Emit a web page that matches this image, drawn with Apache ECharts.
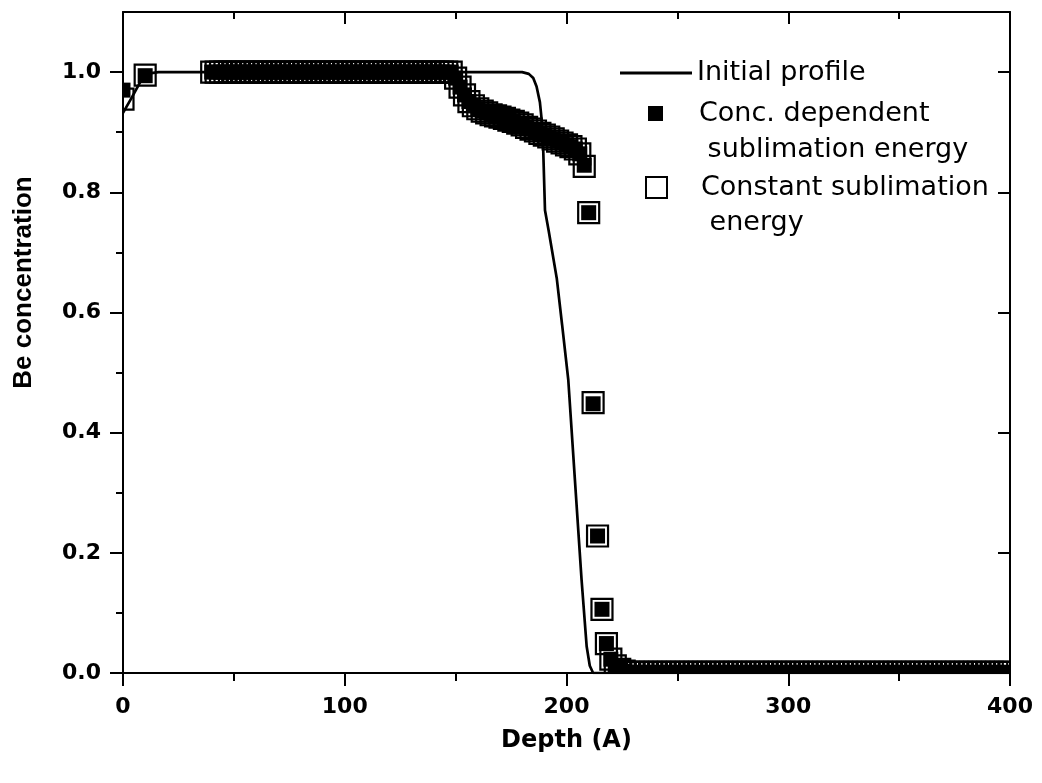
<!DOCTYPE html>
<html>
<head>
<meta charset="utf-8">
<title>Be concentration profile</title>
<script src="https://cdn.jsdelivr.net/npm/echarts@6/dist/echarts.min.js"></script>
<style>
  html, body { margin: 0; padding: 0; background: #ffffff; }
  #chart-container { width: 1042px; height: 783px; }
</style>
</head>
<body>
<div id="chart-container"></div>
<script>
// initial profile (solid line)
const initialDepth = [0, 4, 8, 12, 16, 180, 183, 185, 186.5, 188, 188.8, 189.5, 190.3, 192, 195.6, 198, 200.8, 203.8, 206.8, 209.1, 210.5, 212, 400];
const initialConc = [0.932, 0.958, 0.985, 0.998, 1.0, 1.0, 0.997, 0.99, 0.976, 0.95, 0.921, 0.871, 0.77, 0.735, 0.657, 0.58, 0.488, 0.321, 0.155, 0.044, 0.012, 0.0, 0.0];

// simulated profiles after erosion (both runs share the depth grid)
const depth = [
  0, 10,
  40, 42, 44, 46, 48, 50, 52, 54, 56, 58, 60, 62, 64, 66, 68, 70, 72, 74, 76, 78,
  80, 82, 84, 86, 88, 90, 92, 94, 96, 98, 100, 102, 104, 106, 108, 110, 112, 114, 116, 118,
  120, 122, 124, 126, 128, 130, 132, 134, 136, 138, 140, 142, 144, 146, 148,
  150, 152, 154, 156, 158, 160, 162, 164, 166, 168, 170, 172, 174, 176, 178,
  180, 182, 184, 186, 188, 190, 192, 194, 196, 198, 200, 202, 204, 206, 208,
  210, 212, 214, 216, 218, 220, 222, 224, 226,
  228, 230, 232, 234, 236, 238, 240, 242, 244, 246, 248, 250, 252, 254, 256, 258, 260, 262, 264, 266,
  268, 270, 272, 274, 276, 278, 280, 282, 284, 286, 288, 290, 292, 294, 296, 298, 300, 302, 304, 306,
  308, 310, 312, 314, 316, 318, 320, 322, 324, 326, 328, 330, 332, 334, 336, 338, 340, 342, 344, 346,
  348, 350, 352, 354, 356, 358, 360, 362, 364, 366, 368, 370, 372, 374, 376, 378, 380, 382, 384, 386,
  388, 390, 392, 394, 396, 398, 400
];

const concDependent = [
  0.970, 0.994,
  1, 1, 1, 1, 1, 1, 1, 1, 1, 1, 1, 1, 1, 1, 1, 1, 1, 1, 1, 1,
  1, 1, 1, 1, 1, 1, 1, 1, 1, 1, 1, 1, 1, 1, 1, 1, 1, 1, 1, 1,
  1, 1, 1, 1, 1, 1, 1, 1, 1, 1, 1, 1, 1, 1, 1,
  0.990, 0.975, 0.962, 0.951, 0.944, 0.939, 0.935, 0.932, 0.929, 0.927, 0.925, 0.923, 0.920, 0.918, 0.915,
  0.912, 0.908, 0.905, 0.902, 0.898, 0.895, 0.892, 0.889, 0.885, 0.882, 0.879, 0.876, 0.872, 0.864, 0.845,
  0.766, 0.448, 0.228, 0.106, 0.049, 0.023, 0.012, 0.006, 0.003,
  0.001, 0.001, 0.001, 0.001, 0.001, 0.001, 0.001, 0.001, 0.001, 0.001, 0.001, 0.001, 0.001, 0.001, 0.001, 0.001, 0.001, 0.001, 0.001, 0.001,
  0.001, 0.001, 0.001, 0.001, 0.001, 0.001, 0.001, 0.001, 0.001, 0.001, 0.001, 0.001, 0.001, 0.001, 0.001, 0.001, 0.001, 0.001, 0.001, 0.001,
  0.001, 0.001, 0.001, 0.001, 0.001, 0.001, 0.001, 0.001, 0.001, 0.001, 0.001, 0.001, 0.001, 0.001, 0.001, 0.001, 0.001, 0.001, 0.001, 0.001,
  0.001, 0.001, 0.001, 0.001, 0.001, 0.001, 0.001, 0.001, 0.001, 0.001, 0.001, 0.001, 0.001, 0.001, 0.001, 0.001, 0.001, 0.001, 0.001, 0.001,
  0.001, 0.001, 0.001, 0.001, 0.001, 0.001, 0.001
];

const constEnergy = [
  0.955, 0.995,
  1, 1, 1, 1, 1, 1, 1, 1, 1, 1, 1, 1, 1, 1, 1, 1, 1, 1, 1, 1,
  1, 1, 1, 1, 1, 1, 1, 1, 1, 1, 1, 1, 1, 1, 1, 1, 1, 1, 1, 1,
  1, 1, 1, 1, 1, 1, 1, 1, 1, 1, 1, 1, 1, 1, 1,
  0.990, 0.975, 0.962, 0.951, 0.944, 0.939, 0.935, 0.932, 0.929, 0.927, 0.925, 0.923, 0.920, 0.918, 0.915,
  0.912, 0.908, 0.905, 0.902, 0.898, 0.895, 0.892, 0.889, 0.885, 0.882, 0.879, 0.876, 0.872, 0.864, 0.843,
  0.766, 0.450, 0.228, 0.106, 0.049, 0.023, 0.012, 0.006, 0.003,
  0.001, 0.001, 0.001, 0.001, 0.001, 0.001, 0.001, 0.001, 0.001, 0.001, 0.001, 0.001, 0.001, 0.001, 0.001, 0.001, 0.001, 0.001, 0.001, 0.001,
  0.001, 0.001, 0.001, 0.001, 0.001, 0.001, 0.001, 0.001, 0.001, 0.001, 0.001, 0.001, 0.001, 0.001, 0.001, 0.001, 0.001, 0.001, 0.001, 0.001,
  0.001, 0.001, 0.001, 0.001, 0.001, 0.001, 0.001, 0.001, 0.001, 0.001, 0.001, 0.001, 0.001, 0.001, 0.001, 0.001, 0.001, 0.001, 0.001, 0.001,
  0.001, 0.001, 0.001, 0.001, 0.001, 0.001, 0.001, 0.001, 0.001, 0.001, 0.001, 0.001, 0.001, 0.001, 0.001, 0.001, 0.001, 0.001, 0.001, 0.001,
  0.001, 0.001, 0.001, 0.001, 0.001, 0.001, 0.001
];

const yMajorTicks = [0, 0.2, 0.4, 0.6, 0.8, 1.0];
const yMinorTicks = [0.1, 0.3, 0.5, 0.7, 0.9];

const NAME_INITIAL = 'Initial profile';
const NAME_CONC = 'Conc. dependent\n sublimation energy';
const NAME_CONST = 'Constant sublimation\n energy';

const axisColor = '#000000';
const tickFont = { fontFamily: 'DejaVu Sans', fontWeight: 'bold', fontSize: 22, color: '#000' };
const legendFont = { fontFamily: 'DejaVu Sans', fontSize: 27, color: '#000' };

// squares are drawn through a custom series so the grid can clip them
const squareRenderer = (size, filled) => (params, api) => {
    const c = api.coord([api.value(0), api.value(1)]);
    return {
        type: 'rect',
        shape: { x: c[0] - size / 2, y: c[1] - size / 2, width: size, height: size },
        style: filled ? { fill: '#000' } : { fill: 'none', stroke: '#000', lineWidth: 2.2 }
    };
};

const lineOf = (w) => ({ lineStyle: { color: axisColor, width: w } });

// empty first line keeps the icon level with the first text line
const firstLineFormatter = (name) => '\n' + name;

const chartContainer = document.getElementById('chart-container');
const myChart = echarts.init(chartContainer, null, { renderer: 'canvas' });

const options = {
    animation: false,
    backgroundColor: '#ffffff',
    grid: { left: 123, right: 32, top: 12, bottom: 110, containLabel: false, outerBoundsMode: 'none' },
    legend: [
        {
            data: [{ name: NAME_INITIAL, icon: 'rect' }],
            left: 620, top: 54, padding: 0,
            itemWidth: 72, itemHeight: 3,
            selectedMode: false,
            itemStyle: { color: '#000', borderWidth: 0 },
            textStyle: Object.assign({ lineHeight: 38 }, legendFont)
        },
        {
            data: [{ name: NAME_CONC, icon: 'rect' }],
            left: 648, top: 59.5, padding: 0,
            itemWidth: 15, itemHeight: 15,
            selectedMode: false,
            formatter: firstLineFormatter,
            itemStyle: { color: '#000', borderWidth: 0 },
            textStyle: Object.assign({ lineHeight: 36, padding: [0, 0, 0, 31] }, legendFont)
        },
        {
            data: [{ name: NAME_CONST, icon: 'rect' }],
            left: 645, top: 135, padding: 0,
            itemWidth: 21, itemHeight: 21,
            selectedMode: false,
            formatter: firstLineFormatter,
            itemStyle: { color: '#ffffff', borderColor: '#000', borderWidth: 2 },
            textStyle: Object.assign({ lineHeight: 35, padding: [0, 0, 0, 29] }, legendFont)
        }
    ],
    xAxis: [
        {
            type: 'value', position: 'bottom', min: 0, max: 400, interval: 100,
            axisLine: Object.assign({ onZero: false }, lineOf(2)),
            axisTick: Object.assign({ inside: false, length: 13 }, lineOf(2)),
            minorTick: Object.assign({ show: true, splitNumber: 2, length: 8 }, lineOf(2)),
            splitLine: { show: false },
            axisLabel: Object.assign({ margin: 23 }, tickFont),
            name: 'Depth (A)', nameLocation: 'middle', nameGap: 56,
            nameTextStyle: { fontFamily: 'DejaVu Sans', fontWeight: 'bold', fontSize: 24, color: '#000' }
        },
        {
            type: 'value', position: 'top', min: 0, max: 400, interval: 100,
            axisLine: Object.assign({ onZero: false }, lineOf(2)),
            axisTick: Object.assign({ inside: true, length: 12 }, lineOf(2)),
            minorTick: Object.assign({ show: true, splitNumber: 2, length: 7 }, lineOf(2)),
            splitLine: { show: false },
            axisLabel: { show: false }
        }
    ],
    yAxis: [
        {
            type: 'value', position: 'left', min: 0, max: 1.1,
            axisLine: Object.assign({ onZero: false }, lineOf(2)),
            axisTick: Object.assign({ inside: false, length: 13, customValues: yMajorTicks }, lineOf(2)),
            splitLine: { show: false },
            axisLabel: Object.assign({
                margin: 22,
                customValues: yMajorTicks,
                formatter: (v) => v.toFixed(1)
            }, tickFont),
            name: 'Be concentration', nameLocation: 'middle', nameGap: 86, nameRotate: 90,
            nameTextStyle: {
                fontFamily: 'Liberation Sans', fontWeight: 'bold', fontSize: 26, color: '#000',
                padding: [0, 0, 0, 120]
            }
        },
        {
            type: 'value', position: 'left', min: 0, max: 1.1,
            axisLine: { show: false },
            axisTick: Object.assign({ inside: false, length: 7, customValues: yMinorTicks }, lineOf(2)),
            splitLine: { show: false },
            axisLabel: { show: false }
        },
        {
            type: 'value', position: 'right', min: 0, max: 1.1,
            axisLine: Object.assign({ onZero: false }, lineOf(2)),
            axisTick: Object.assign({ inside: true, length: 12, customValues: yMajorTicks }, lineOf(2)),
            splitLine: { show: false },
            axisLabel: { show: false }
        },
        {
            type: 'value', position: 'right', min: 0, max: 1.1,
            axisLine: { show: false },
            axisTick: Object.assign({ inside: true, length: 7, customValues: yMinorTicks }, lineOf(2)),
            splitLine: { show: false },
            axisLabel: { show: false }
        }
    ],
    series: [
        {
            name: NAME_CONST,
            type: 'custom',
            clip: true,
            xAxisIndex: 0, yAxisIndex: 0,
            itemStyle: { color: '#ffffff', borderColor: '#000' },
            encode: { x: 0, y: 1 },
            renderItem: squareRenderer(21, false),
            data: depth.map((d, i) => [d, constEnergy[i]])
        },
        {
            name: NAME_CONC,
            type: 'custom',
            clip: true,
            xAxisIndex: 0, yAxisIndex: 0,
            itemStyle: { color: '#000' },
            encode: { x: 0, y: 1 },
            renderItem: squareRenderer(15, true),
            data: depth.map((d, i) => [d, concDependent[i]])
        },
        {
            name: NAME_INITIAL,
            type: 'line',
            xAxisIndex: 0, yAxisIndex: 0,
            symbol: 'none',
            smooth: false,
            clip: true,
            z: 5,
            lineStyle: { color: '#000', width: 2.7 },
            itemStyle: { color: '#000' },
            data: initialDepth.map((d, i) => [d, initialConc[i]])
        }
    ]
};

myChart.setOption(options);

window.addEventListener('resize', function () {
    myChart.resize();
});
</script>
</body>
</html>
